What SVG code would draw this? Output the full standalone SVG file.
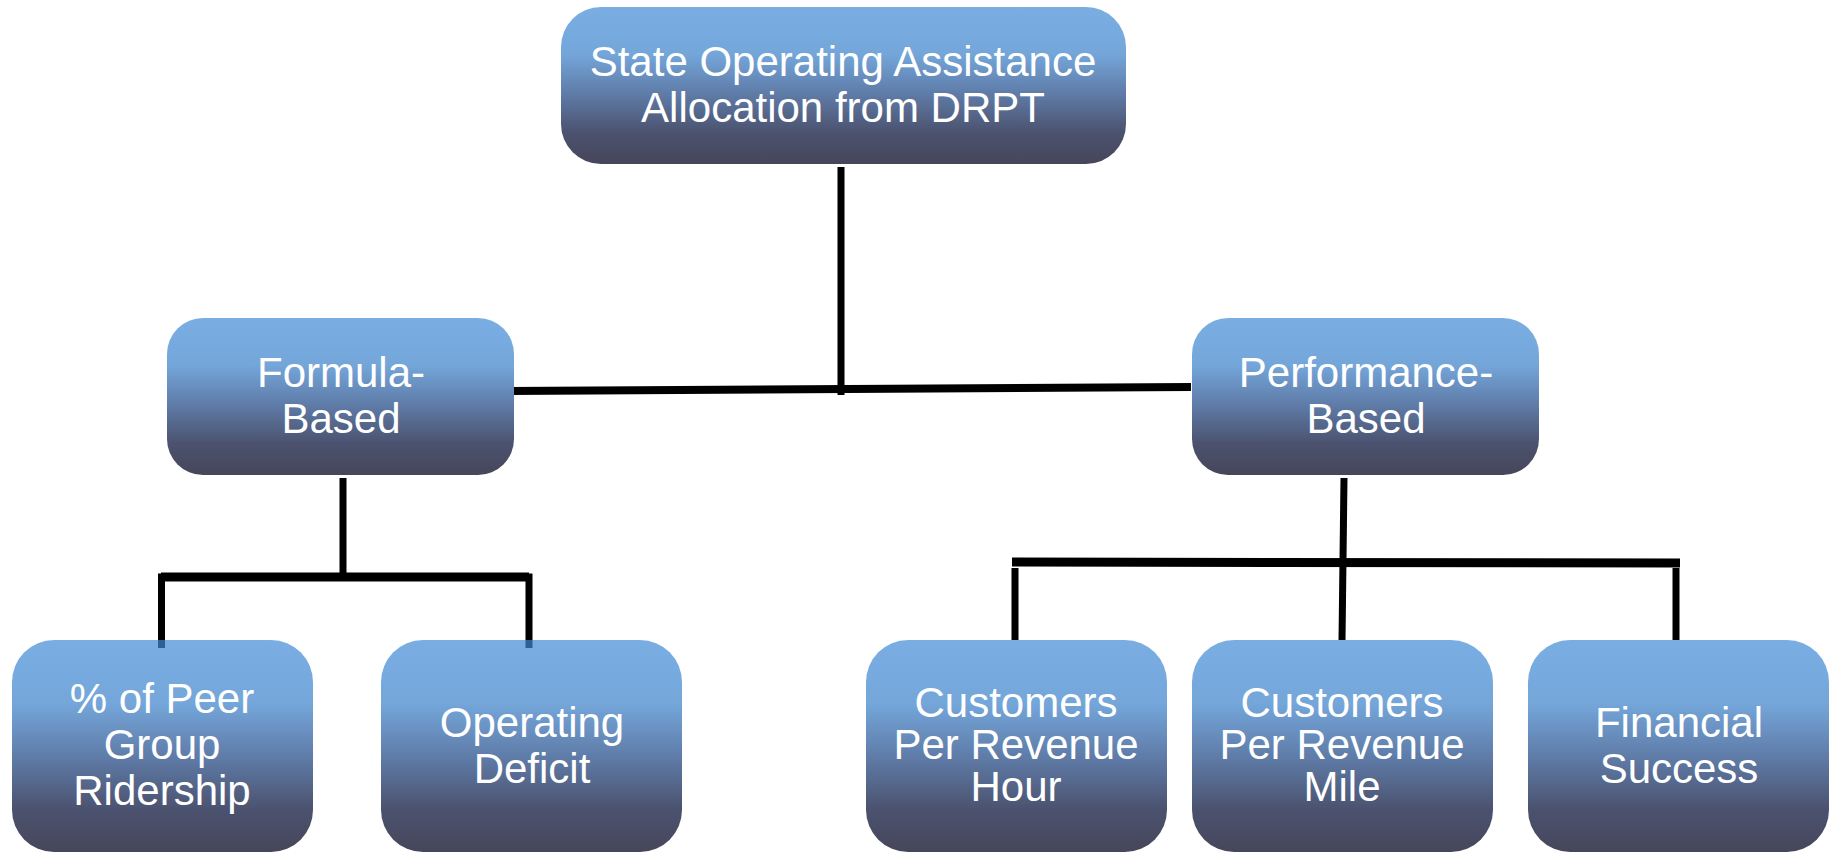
<svg xmlns="http://www.w3.org/2000/svg" width="1835" height="853" viewBox="0 0 1835 853">
<defs>
<linearGradient id="g" x1="0" y1="0" x2="0" y2="1">
<stop offset="0" stop-color="#7aaee2"/>
<stop offset="0.3" stop-color="#74a6da"/>
<stop offset="0.55" stop-color="#5f7ca8"/>
<stop offset="0.8" stop-color="#4b526f"/>
<stop offset="1" stop-color="#46465a"/>
</linearGradient>
<style>
.box{fill:url(#g);}
.t{font-family:"Liberation Sans",Arial,sans-serif;font-size:42px;fill:#ffffff;text-anchor:middle;}
.c{stroke:#000000;fill:none;stroke-linecap:butt;}
.in{fill:#2f5f98;}
</style>
</defs>
<rect width="1835" height="853" fill="#ffffff"/>
<g id="connectors">
<line class="c" x1="841" y1="167" x2="841" y2="395" stroke-width="7"/>
<line class="c" x1="507" y1="391" x2="1191" y2="387" stroke-width="8"/>
<line class="c" x1="343" y1="478" x2="343" y2="578" stroke-width="7"/>
<polyline class="c" points="161.5,648 161.5,577 529,577 529,648" stroke-width="7"/>
<line class="c" x1="161" y1="577" x2="529" y2="577" stroke-width="9"/>
<line class="c" x1="1344" y1="478" x2="1342" y2="641" stroke-width="7"/>
<line class="c" x1="1012" y1="562" x2="1680" y2="563" stroke-width="9"/>
<line class="c" x1="1015" y1="568" x2="1015" y2="641" stroke-width="7"/>
<line class="c" x1="1676" y1="568" x2="1676" y2="641" stroke-width="7"/>
</g>
<g id="node-top">
<rect class="box" x="561" y="7" width="565" height="157" rx="40" ry="40"/>
<text class="t" x="843" y="76">State Operating Assistance</text>
<text class="t" x="843" y="122">Allocation from DRPT</text>
</g>
<g id="node-formula">
<rect class="box" x="167" y="318" width="347" height="157" rx="36" ry="36"/>
<text class="t" x="341" y="387">Formula-</text>
<text class="t" x="341" y="433">Based</text>
</g>
<g id="node-performance">
<rect class="box" x="1192" y="318" width="347" height="157" rx="36" ry="36"/>
<text class="t" x="1366" y="387">Performance-</text>
<text class="t" x="1366" y="433">Based</text>
</g>
<g id="node-peer">
<rect class="box" x="12" y="640" width="301" height="212" rx="42" ry="42"/>
<text class="t" x="162" y="713">% of Peer</text>
<text class="t" x="162" y="759">Group</text>
<text class="t" x="162" y="805">Ridership</text>
</g>
<g id="node-deficit">
<rect class="box" x="381" y="640" width="301" height="212" rx="42" ry="42"/>
<text class="t" x="532" y="737">Operating</text>
<text class="t" x="532" y="783">Deficit</text>
</g>
<g id="node-hour">
<rect class="box" x="866" y="640" width="301" height="212" rx="42" ry="42"/>
<text class="t" x="1016" y="717">Customers</text>
<text class="t" x="1016" y="759">Per Revenue</text>
<text class="t" x="1016" y="801">Hour</text>
</g>
<g id="node-mile">
<rect class="box" x="1192" y="640" width="301" height="212" rx="42" ry="42"/>
<text class="t" x="1342" y="717">Customers</text>
<text class="t" x="1342" y="759">Per Revenue</text>
<text class="t" x="1342" y="801">Mile</text>
</g>
<g id="node-financial">
<rect class="box" x="1528" y="640" width="301" height="212" rx="42" ry="42"/>
<text class="t" x="1679" y="737">Financial</text>
<text class="t" x="1679" y="783">Success</text>
</g>
<g id="connector-overlaps">
<rect class="in" x="158" y="640" width="7" height="8"/>
<rect class="in" x="525.5" y="640" width="7" height="8"/>
</g>
</svg>
